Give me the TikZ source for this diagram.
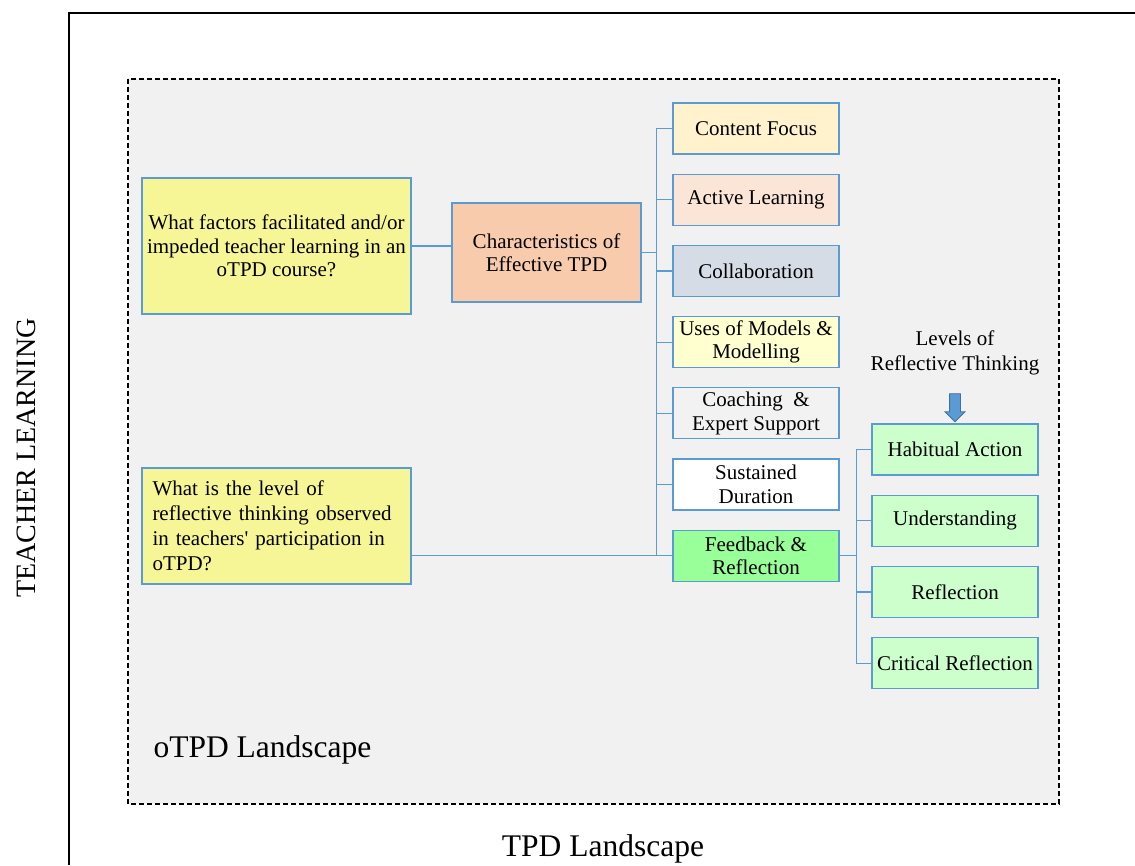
\documentclass[tikz,border=0pt]{standalone}
\usepackage{fontspec}
\setmainfont{Liberation Serif}
\usepackage{tikz}
\usetikzlibrary{
  calc,
  positioning,
  shapes.arrows,
}
\definecolor{lineblue}{RGB}{91, 155, 213}
\definecolor{edgeblue}{RGB}{65, 113, 156}
\definecolor{landgray}{RGB}{241, 241, 241}
\definecolor{question}{RGB}{246, 246, 150}
\definecolor{peach}{RGB}{248, 203, 173}
\definecolor{cream}{RGB}{255, 242, 204}
\definecolor{rose}{RGB}{251, 229, 214}
\definecolor{slate}{RGB}{214, 220, 229}
\definecolor{lemon}{RGB}{255, 255, 208}
\definecolor{mist}{RGB}{242, 242, 242}
\definecolor{mint}{RGB}{153, 255, 153}
\definecolor{palemint}{RGB}{204, 255, 204}
\tikzstyle{link} = [
  draw=lineblue,
  line width=1.2pt,
]

\begin{document}
\begin{tikzpicture}[x=1pt, y=-1pt,
                    font=\fontsize{21}{23.5}\selectfont,
                    box/.style={draw=lineblue, line width=1.2pt,
                                minimum width=166, minimum height=51,
                                align=center, inner sep=2pt,
                                node distance=19pt}]
    \useasboundingbox (0,0) rectangle (1135,865);
    % frame and landscapes
    \draw [line width=1.6pt] (69,865) -- (69,13) -- (1136,13);
    \draw [dash pattern=on 5pt off 3pt, line width=1.2pt, fill=landgray]
          (128,79) rectangle (1059,804);
    \node [anchor=base west, font=\fontsize{31.5}{36}\selectfont]
          (otpd) at (150,757) {oTPD Landscape};
    \node [anchor=base, font=\fontsize{31.5}{36}\selectfont]
          (tpd) at (603,856) {TPD Landscape};
    \node [anchor=base, rotate=90, font=\fontsize{28}{32}\selectfont]
          (tl) at (35,458) {TEACHER LEARNING};
    % research questions
    \node [box, fill=question, minimum width=269, minimum height=136]
          (q1) at (276.5,246)
          {What factors facilitated and/or\\impeded teacher learning in an\\oTPD course?};
    \node [box, fill=question, minimum width=269, minimum height=116,
           font=\fontsize{21}{25}\selectfont, text width=248, align=left]
          (q2) at (276.5,526)
          {What is the level of\\reflective thinking observed\\in teachers\textquotesingle{} participation in\\oTPD?};
    \node [box, fill=peach, minimum width=189, minimum height=99]
          (char) at (546.5,252.5) {Characteristics of\\Effective TPD};
    % characteristics
    \node [box, fill=cream] (content) at (756,128.5) {Content Focus};
    \node [box, fill=rose, below=of content] (active) {Active Learning};
    \node [box, fill=slate, below=of active] (collab) {Collaboration};
    \node [box, fill=lemon, below=of collab] (models) {Uses of Models \&\\Modelling};
    \node [box, fill=mist, below=of models] (coach) {Coaching~~\&\\Expert Support};
    \node [box, fill=white, below=of coach] (sustained) {Sustained\\Duration};
    \node [box, fill=mint, below=of sustained] (feedback) {Feedback \&\\Reflection};
    % levels of reflective thinking
    \node [align=center, font=\fontsize{21}{25}\selectfont]
          (levels) at (955,353) {Levels of\\Reflective Thinking};
    \node [single arrow, draw=edgeblue, fill=lineblue, shape border rotate=270,
           minimum height=28, minimum width=19, single arrow head extend=4.5pt,
           inner sep=5pt, line width=0.8pt] (down) at (955,405) {};
    \node [box, fill=palemint] (habitual) at (955,449.5) {Habitual Action};
    \node [box, fill=palemint, below=of habitual] (underst) {Understanding};
    \node [box, fill=palemint, below=of underst] (reflect) {Reflection};
    \node [box, fill=palemint, below=of reflect] (critical) {Critical Reflection};
    % connectors
    \draw [link] (q1.east) -- (q1.east -| char.west);
    \draw [link] (feedback.west) -- (feedback.west -| q2.east);
    \foreach \n in {content, active, collab, models, coach, sustained, feedback}
      \draw [link] (char.east) -- ++(15,0) |- (\n.west);
    \foreach \n in {habitual, underst, reflect, critical}
      \draw [link] (feedback.east) -- ++(17,0) |- (\n.west);
  \end{tikzpicture}
\end{document}
